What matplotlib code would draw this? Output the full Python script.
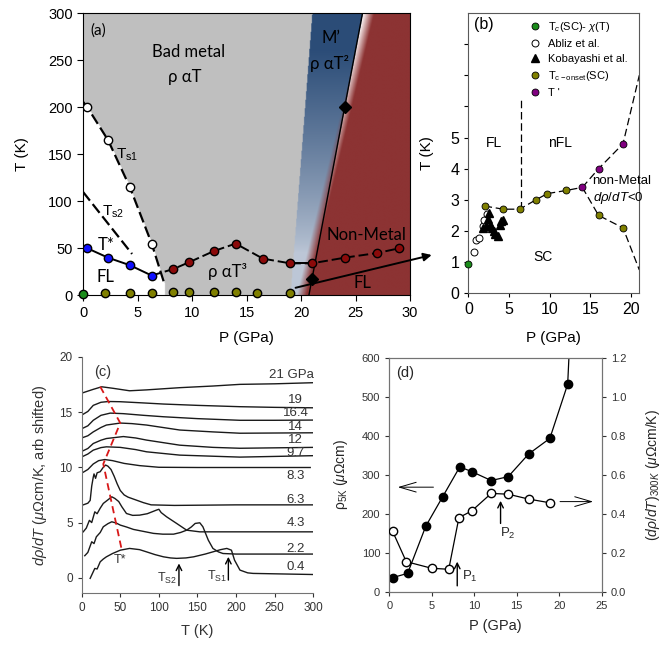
import numpy as np
import matplotlib
matplotlib.use("Agg")
import matplotlib.pyplot as plt

plt.rcParams['font.family'] = ['Liberation Sans', 'DejaVu Sans']
plt.rcParams['mathtext.fontset'] = 'custom'
plt.rcParams['mathtext.rm'] = 'Liberation Sans'
plt.rcParams['mathtext.it'] = 'Liberation Sans:italic'
plt.rcParams['mathtext.bf'] = 'Liberation Sans:bold'

# ---------------- (a) phase diagram T-P
ts1_p = [0.4, 2.3, 4.3, 6.3]
ts1_t = [200, 165, 115, 55]
ts1_line_p = [0.0, 0.4, 2.3, 4.3, 6.3, 7.5]
ts1_line_t = [206, 200, 165, 115, 55, 11]
ts2_line_p = [0.0, 4.5]
ts2_line_t = [110, 44]
tstar_p = [0.4, 2.3, 4.3, 6.3]
tstar_t = [50, 40, 32, 21]
t3_p = [8.3, 9.7, 12, 14, 16.5, 19, 21, 24, 27, 29]
t3_t = [28, 35, 47, 55, 39, 34, 34, 40, 45, 50]
sc_p = [2, 4.3, 6.3, 8.3, 9.7, 12, 14, 16, 19]
sc_t = [2.8, 2.7, 2.7, 3.0, 3.2, 3.3, 3.4, 2.5, 2.1]
chi_p = [0.0]
chi_t = [0.95]
mp_p = [21, 24]          # M' / non-metal boundary (diamonds)
mp_t = [17, 200]

# ---------------- (b) low temperature zoom
abliz_p = [0.74, 0.94, 1.27, 1.76, 1.96, 2.29]
abliz_t = [1.31, 1.70, 1.79, 2.17, 2.34, 2.56]
koba_p = [1.76, 2.17, 2.4, 2.5, 2.7, 2.9, 3.1, 3.3, 3.6, 3.9, 4.04, 4.3]
koba_t = [2.1, 2.15, 2.4, 2.58, 2.2, 2.1, 1.99, 1.9, 1.83, 2.2, 2.31, 2.34]
tprime_p = [14, 16, 19]
tprime_t = [3.4, 4.0, 4.8]
upper_end = (21, 7.0)
lower_end = (21, 0.75)
fl_nfl_p = [6.5, 6.5]
fl_nfl_t = [2.7, 6.2]

# ---------------- (c) d rho/dT curves, shifted
c21_T = [2, 15, 26, 41, 62, 84, 127, 170, 205, 250, 300]
c21_v = [16.75, 17.05, 17.28, 17.14, 16.92, 17.0, 17.2, 17.35, 17.5, 17.55, 17.65]
c19_T = [2, 8, 15, 25, 35, 50, 80, 106, 150, 205, 250, 300]
c19_v = [14.8, 15.05, 15.6, 15.88, 15.95, 15.93, 15.82, 15.72, 15.6, 15.48, 15.42, 15.38]
c164_T = [2, 8, 15, 25, 37, 54, 80, 106, 150, 205, 250, 300]
c164_v = [13.55, 13.75, 14.25, 14.7, 14.9, 14.85, 14.7, 14.57, 14.4, 14.25, 14.25, 14.27]
c14_T = [2, 8, 15, 25, 32, 50, 65, 84, 127, 170, 205, 300]
c14_v = [12.7, 12.85, 13.2, 13.6, 13.82, 14.0, 13.95, 13.82, 13.37, 13.2, 13.08, 13.12]
c12_T = [2, 8, 15, 25, 32, 54, 70, 84, 127, 170, 205, 300]
c12_v = [11.5, 11.7, 12.15, 12.45, 12.6, 12.78, 12.65, 12.46, 12.0, 11.8, 11.72, 11.8]
c97_T = [2, 8, 15, 25, 32, 50, 70, 84, 127, 170, 205, 300]
c97_v = [11.0, 11.2, 11.55, 11.78, 11.85, 11.8, 11.6, 11.4, 11.1, 11.0, 10.92, 11.05]
c83_T = [2, 8, 15, 22, 30, 40, 55, 75, 100, 150, 200, 296]
c83_v = [9.55, 9.8, 10.3, 10.6, 10.7, 10.6, 10.35, 10.15, 10.0, 9.98, 9.98, 9.98]
c63_T = [2, 8, 11, 13, 15, 16, 18, 20, 24, 28, 31, 34, 38, 42, 46, 50, 55, 60, 70,
         80, 90, 120, 200, 300]
c63_v = [6.6, 6.75, 7.0, 8.3, 9.1, 9.4, 9.0, 9.5, 9.6, 10.0, 10.2, 10.1, 9.8, 9.2, 8.5,
         7.9, 7.5, 7.3, 7.05, 6.8, 6.6, 6.55, 6.6, 6.6]
c43_T = [2, 6, 10, 13, 17, 20, 24, 28, 33, 39, 43, 48, 52, 58, 66, 75, 85, 97, 100,
         103, 110, 123, 136, 153, 200, 300]
c43_v = [4.16, 4.5, 5.2, 5.0, 5.97, 5.8, 6.3, 6.73, 7.0, 7.33, 7.18, 6.9, 6.43, 5.82,
         5.65, 5.67, 5.8, 6.13, 6.2, 5.9, 5.52, 4.92, 4.31, 4.16, 4.16, 4.16]
c22_T = [4, 8, 13, 16, 19, 24, 28, 34, 39, 45, 50, 58, 67, 80, 93, 105, 119, 128, 136,
         142, 147, 153, 157, 164, 170, 177, 183, 200, 300]
c22_v = [2.0, 2.3, 3.26, 3.1, 3.71, 4.1, 4.62, 4.9, 5.07, 4.95, 4.77, 4.6, 4.38, 4.2,
         4.02, 3.95, 3.95, 4.1, 4.31, 4.6, 4.92, 4.98, 4.62, 3.41, 2.66, 2.35, 2.2, 2.15, 2.15]
c04_T = [11, 14, 17, 20, 24, 28, 32, 40, 50, 62, 75, 84, 95, 106, 115, 123, 135, 145,
         160, 170, 180, 188, 194, 198, 205, 215, 222, 260, 300]
c04_v = [-0.05, 0.4, 0.85, 0.8, 1.45, 1.7, 1.9, 2.2, 2.5, 2.66, 2.55, 2.35, 2.1, 1.9,
         1.8, 1.76, 1.8, 1.9, 2.15, 2.35, 2.55, 2.66, 2.5, 1.6, 0.7, 0.45, 0.4, 0.35, 0.3]
curve_labels = ['21 GPa', '19', '16.4', '14', '12', '9.7', '8.3', '6.3', '4.3', '2.2', '0.4']
label_v = [18.35, 16.1, 14.9, 13.6, 12.45, 11.25, 9.25, 7.05, 4.95, 2.65, 0.95]
tstar_c_T = [24, 50, 28, 52]
tstar_c_v = [17.3, 14.0, 10.3, 2.5]

# ---------------- (d) rho(5K) and slope at 300 K
rho_p = [0.39, 2.16, 4.3, 6.3, 8.3, 9.7, 12.0, 14.0, 16.4, 18.9, 21.0, 22.0]
rho_v = [36, 47, 168, 244, 320, 308, 285, 295, 353, 393, 532, 1000]
slope_p = [0.39, 2.0, 5.0, 7.0, 8.2, 9.7, 12.0, 14.0, 16.4, 18.9]
slope_v = [0.31, 0.154, 0.12, 0.115, 0.38, 0.414, 0.504, 0.50, 0.475, 0.456]


def phase_background(n=500):
    pp, tt = np.meshgrid(np.linspace(0, 30, n), np.linspace(0, 300, n))
    img = np.full(pp.shape + (3,), 0.75)
    # FL corner below the Ts1 line
    edge = np.interp(tt, ts1_line_t[::-1], ts1_line_p[::-1], right=-1.0)
    img[pp < edge] = 1.0
    # M' wedge, blue fading towards low T
    k = (mp_p[1] - mp_p[0]) / (mp_t[1] - mp_t[0])
    line = mp_p[0] + (tt - mp_t[0]) * k
    left = 19.0 + 2.0 * tt / 300
    f = (np.clip((tt - 45) / 215, 0, 1) ** 0.8)[..., None]
    blue = (1 - f) * np.array([0.74, 0.78, 0.84]) + f * np.array([0.17, 0.30, 0.47])
    wedge = (pp >= left) & (pp < line)
    img[wedge] = blue[wedge]
    img[pp >= line] = [0.95, 0.9, 0.9]
    # non-metal region, soft edge around the boundary line
    shift = -0.7 + 1.3 * tt / 300
    w = np.clip((pp - line - shift) / 0.9 + 0.5, 0, 1)[..., None]
    img = img * (1 - w) + np.array([0.55, 0.20, 0.20]) * w
    return img


fig = plt.figure(figsize=(6.7, 6.48), dpi=100)

# ======================= (a)
ax = fig.add_axes([0.1239, 0.5443, 0.4881, 0.4352])
ax.imshow(phase_background(), extent=[0, 30, 0, 300], origin='lower', aspect='auto',
          interpolation='bilinear', zorder=0)
ax.plot(ts1_line_p, ts1_line_t, color='k', lw=1.6, dashes=(5, 2), zorder=2)
ax.plot(ts2_line_p, ts2_line_t, color='k', lw=1.6, dashes=(5, 2), zorder=2)
ax.plot(ts1_p, ts1_t, 'o', mfc='white', mec='k', ms=6, zorder=4)
ax.plot(tstar_p, tstar_t, color='k', lw=1.4, zorder=2)
ax.plot([tstar_p[-1]] + t3_p, [tstar_t[-1]] + t3_t, color='k', lw=1.4, dashes=(5, 2), zorder=2)
ax.plot(t3_p[5:7], t3_t[5:7], color='k', lw=1.4, zorder=2)
ax.plot(tstar_p, tstar_t, 'o', mfc='#1010ff', mec='k', ms=6, zorder=4)
ax.plot(t3_p, t3_t, 'o', mfc='#8b0a0a', mec='k', ms=6, zorder=4)
k = (mp_p[1] - mp_p[0]) / (mp_t[1] - mp_t[0])
ax.plot([mp_p[0] - mp_t[0] * k, mp_p[0] + (300 - mp_t[0]) * k], [0, 300], color='k', lw=1, zorder=2)
ax.plot(mp_p, mp_t, 'D', color='k', ms=6, zorder=4)
ax.plot(sc_p, sc_t, 'o', mfc='#808000', mec='k', ms=6, clip_on=False, zorder=5)
ax.plot(chi_p, chi_t, 'o', mfc='#1a8c1a', mec='k', ms=6, clip_on=False, zorder=5)

lato = ['Lato', 'DejaVu Sans']
ax.text(0.7, 282, '(a)', fontsize=11, va='center', family=lato)
ax.text(9.7, 259, 'Bad metal', fontsize=12, ha='center', va='center', family=lato)
ax.text(9.3, 232, 'ρ αT', fontsize=12, ha='center', va='center', family=lato)
ax.text(22.7, 274, 'M’', fontsize=12, ha='center', va='center', family=lato)
ax.text(22.6, 247, 'ρ αT²', fontsize=12, ha='center', va='center', family=lato)
ax.text(4.0, 149, 'T$_{\\mathrm{s1}}$', fontsize=11, ha='center', va='center')
ax.text(2.8, 89, 'T$_{\\mathrm{s2}}$', fontsize=11, ha='center', va='center')
ax.text(2.1, 54, 'T*', fontsize=12, ha='center', va='center', family=lato)
ax.text(2.1, 19, 'FL', fontsize=12, ha='center', va='center', family=lato)
ax.text(13.3, 25, 'ρ αT³', fontsize=12, ha='center', va='center', family=lato)
ax.text(26.0, 64, 'Non-Metal', fontsize=12, ha='center', va='center', family=lato)
ax.text(25.6, 13, 'FL', fontsize=12, ha='center', va='center', family=lato)

ax.set_xlim(0, 30)
ax.set_ylim(0, 300)
ax.set_xticks(range(0, 31, 5))
ax.set_yticks(range(0, 301, 50))
ax.tick_params(direction='out', length=4, labelsize=10.5)
ax.set_xlabel('P (GPa)', fontsize=11)
ax.set_ylabel('T (K)', fontsize=11)
ax.xaxis.set_label_coords(0.5, -0.125)
ax.yaxis.set_label_coords(-0.165, 0.5)

# arrow pointing from the SC dome of (a) into (b)
ax.annotate('', xy=(431.7 / 670, 1 - 255 / 648), xycoords='figure fraction',
            xytext=(19.5, 8), textcoords='data', annotation_clip=False,
            arrowprops=dict(arrowstyle='-|>', color='k', lw=1.4, mutation_scale=12,
                            shrinkA=0, shrinkB=0))

# ======================= (b)
bx = fig.add_axes([0.699, 0.5474, 0.2552, 0.4326])
dash_b = (6, 3)
bx.plot(sc_p[:7], sc_t[:7], color='k', lw=0.9, dashes=dash_b)
bx.plot(sc_p[6:] + [lower_end[0]], sc_t[6:] + [lower_end[1]], color='k', lw=0.9, dashes=dash_b)
bx.plot(tprime_p + [upper_end[0]], tprime_t + [upper_end[1]], color='k', lw=0.9, dashes=dash_b)
bx.plot(fl_nfl_p, fl_nfl_t, color='k', lw=0.9, dashes=dash_b)
bx.plot(chi_p, chi_t, 'o', mfc='#1a8c1a', mec='k', mew=0.6, ms=5, clip_on=False,
        zorder=5, label=r'T$_c$(SC)- $\chi$(T)')
bx.plot(abliz_p, abliz_t, 'o', mfc='white', mec='k', mew=0.7, ms=5, label='Abliz et al.')
bx.plot(koba_p, koba_t, '^', color='k', ms=6, label='Kobayashi et al.')
bx.plot([p for p in sc_p if p != 14], [t for p, t in zip(sc_p, sc_t) if p != 14], 'o',
        mfc='#808000', mec='k', mew=0.6, ms=5, zorder=4,
        label=r'T$_{\mathrm{c-onset}}$(SC)')
bx.plot(tprime_p, tprime_t, 'o', mfc='#800080', mec='k', mew=0.6, ms=5, zorder=4,
        label="T '")
bx.legend(loc='upper left', bbox_to_anchor=(0.36, 0.975), frameon=False, fontsize=8,
          borderpad=0, borderaxespad=0, handlelength=1.0, handletextpad=0.6,
          labelspacing=0.45, numpoints=1)
bx.text(3.1, 4.84, 'FL', fontsize=10, ha='center', va='center')
bx.text(11.3, 4.84, 'nFL', fontsize=10, ha='center', va='center')
bx.text(9.2, 1.18, 'SC', fontsize=10, ha='center', va='center')
bx.text(18.8, 3.62, 'non-Metal', fontsize=9.5, ha='center', va='center')
bx.text(18.4, 3.06, r'$d\rho/dT$<0', fontsize=9.5, ha='center', va='center')
bx.text(1.9, 8.62, '(b)', fontsize=11.5, ha='center', va='center')
bx.set_xlim(0, 21)
bx.set_ylim(0, 9)
bx.set_xticks([0, 5, 10, 15, 20])
bx.set_yticks(range(0, 9))
bx.set_yticklabels([str(i) if i <= 5 else '' for i in range(0, 9)])
bx.tick_params(direction='out', length=3, labelsize=11.5)
bx.set_xlabel('P (GPa)', fontsize=11)
bx.set_ylabel('T (K)', fontsize=11)
bx.xaxis.set_label_coords(0.5, -0.135)
bx.yaxis.set_label_coords(-0.2, 0.5)
for s in bx.spines.values():
    s.set_color('0.35')

# ======================= (c)
cx = fig.add_axes([0.1219, 0.0844, 0.3457, 0.3651])
curves = [(c21_T, c21_v), (c19_T, c19_v), (c164_T, c164_v), (c14_T, c14_v),
          (c12_T, c12_v), (c97_T, c97_v), (c83_T, c83_v), (c63_T, c63_v),
          (c43_T, c43_v), (c22_T, c22_v), (c04_T, c04_v)]
for T, v in curves:
    cx.plot(T, v, color='0.1', lw=1.0)
cx.plot(tstar_c_T, tstar_c_v, color='#d81818', lw=1.3, dashes=(4, 2.5), zorder=3)
for lab, y in zip(curve_labels, label_v):
    if lab.endswith('GPa'):
        cx.text(301, y, lab, fontsize=9.5, ha='right', va='center', color='0.2')
    else:
        cx.text(277, y, lab, fontsize=9.5, ha='center', va='center', color='0.2')
cx.text(27.6, 18.6, '(c)', fontsize=10.5, ha='center', va='center', color='0.2')
cx.text(50, 1.6, 'T*', fontsize=9, ha='center', va='center', color='0.2')
cx.text(110, -0.1, 'T$_{\\mathrm{S2}}$', fontsize=9, ha='center', va='center', color='0.2')
cx.text(175, 0.1, 'T$_{\\mathrm{S1}}$', fontsize=9, ha='center', va='center', color='0.2')
for tt_, y0, y1 in [(126, -0.7, 1.3), (190, -0.2, 1.9)]:
    cx.annotate('', xy=(tt_, y1), xytext=(tt_, y0), annotation_clip=False,
                arrowprops=dict(arrowstyle='->', color='k', lw=1.0, shrinkA=0, shrinkB=0))
cx.set_xlim(0, 300)
cx.set_ylim(-1.4, 20)
cx.set_xticks(range(0, 301, 50))
cx.set_yticks(range(0, 21, 5))
cx.spines['top'].set_visible(False)
cx.spines['right'].set_visible(False)
for s in ('left', 'bottom'):
    cx.spines[s].set_color('0.45')
cx.tick_params(direction='out', length=3, labelsize=8.5, colors='0.2')
cx.set_xlabel('T (K)', fontsize=10.5, color='0.2')
cx.set_ylabel(r'$d\rho/dT$ ($\mu\Omega$cm/K, arb shifted)', fontsize=10.5, color='0.2')
cx.xaxis.set_label_coords(0.5, -0.13)
cx.yaxis.set_label_coords(-0.141, 0.5)

# ======================= (d)
dx = fig.add_axes([0.581, 0.0869, 0.317, 0.3611])
dx.plot(rho_p, rho_v, '-o', color='k', lw=0.9, ms=6, mfc='k', mec='k')
dx.set_xlim(0, 25)
dx.set_ylim(0, 600)
dx.set_xticks(range(0, 26, 5))
dx.set_yticks(range(0, 601, 100))
dx.annotate('', xy=(1.0, 268), xytext=(5.2, 268),
            arrowprops=dict(arrowstyle='->,head_length=1.2,head_width=0.35', color='k',
                            lw=0.7, shrinkA=0, shrinkB=0))
dx.annotate('', xy=(24.0, 231), xytext=(20.1, 231), annotation_clip=False,
            arrowprops=dict(arrowstyle='->,head_length=1.2,head_width=0.35', color='k',
                            lw=0.7, shrinkA=0, shrinkB=0))
dx.annotate('', xy=(8.0, 77), xytext=(8.0, 15),
            arrowprops=dict(arrowstyle='->', color='k', lw=1.0, shrinkA=0, shrinkB=0))
dx.annotate('', xy=(13.1, 233), xytext=(13.1, 175),
            arrowprops=dict(arrowstyle='->', color='k', lw=1.0, shrinkA=0, shrinkB=0))
dx.text(9.5, 38, 'P$_1$', fontsize=9.5, ha='center', va='center', color='0.15')
dx.text(14.0, 150, 'P$_2$', fontsize=9.5, ha='center', va='center', color='0.15')
dx.text(1.85, 560, '(d)', fontsize=10.5, ha='center', va='center', color='0.15')
dx.tick_params(direction='out', length=3, labelsize=8, colors='0.2')
dx.set_xlabel('P (GPa)', fontsize=10.5, color='0.15')
dx.set_ylabel(r'$\mathrm{\rho}_{\mathrm{5K}}$ ($\mu\Omega$cm)', fontsize=10, color='0.15')
dx.xaxis.set_label_coords(0.5, -0.117)
dx.yaxis.set_label_coords(-0.185, 0.5)
for s in dx.spines.values():
    s.set_color('0.45')

dr = dx.twinx()
dr.plot(slope_p, slope_v, '-o', color='k', lw=0.9, ms=6, mfc='white', mec='k', zorder=3)
dr.set_ylim(0, 1.2)
dr.set_yticks(np.arange(0, 1.21, 0.2))
dr.set_yticklabels(['%.1f' % v for v in np.arange(0, 1.21, 0.2)])
dr.tick_params(direction='out', length=3, labelsize=8, colors='0.2')
dr.set_ylabel(r'$(d\rho/dT)_{300K}$ ($\mu\Omega$cm/K)', fontsize=10, color='0.15')
dr.yaxis.set_label_coords(1.2, 0.5)
for s in dr.spines.values():
    s.set_color('0.45')

fig.savefig('out.png', dpi=100)
